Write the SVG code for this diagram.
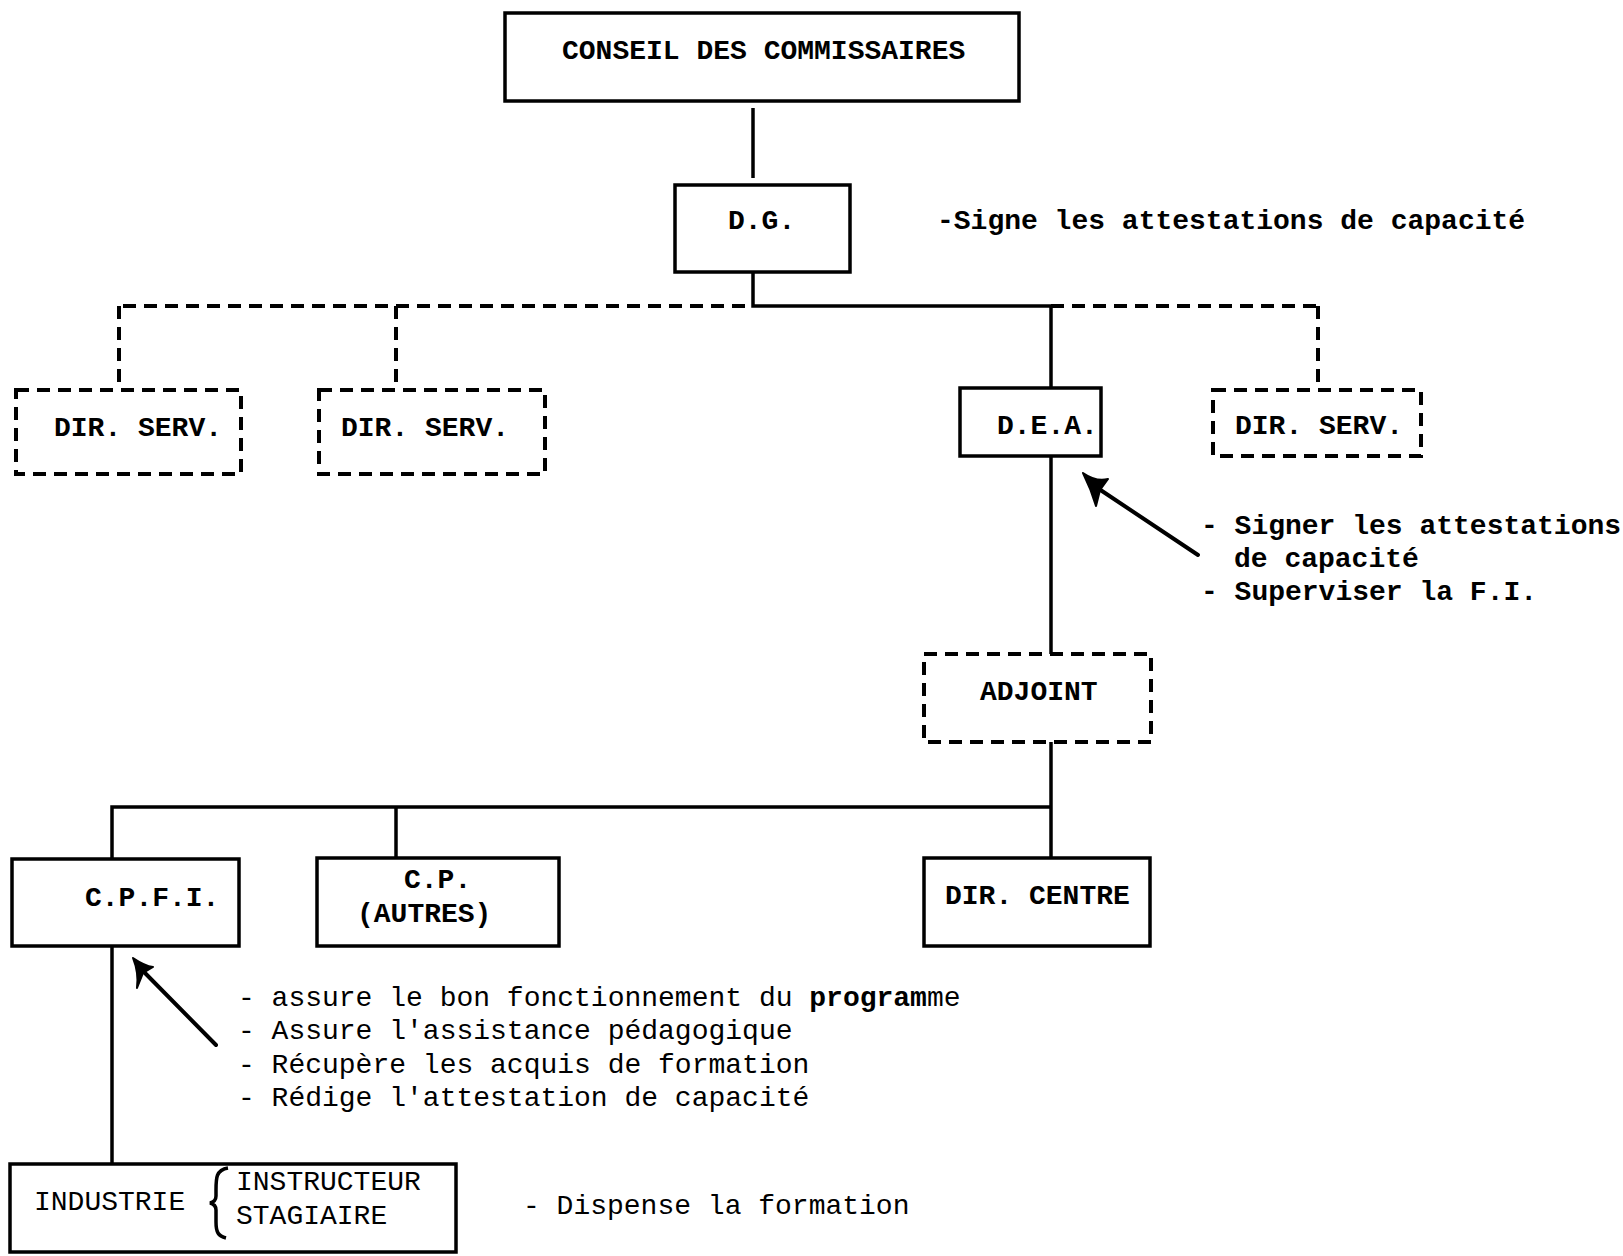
<svg xmlns="http://www.w3.org/2000/svg" width="1623" height="1256" viewBox="0 0 1623 1256">
  <style>
    .box { fill: #fff; stroke: #000; stroke-width: 3.5; }
    .dbox { fill: #fff; stroke: #000; stroke-width: 4; stroke-dasharray: 13 8; }
    .ln { fill: none; stroke: #000; stroke-width: 3.5; }
    .dln { fill: none; stroke: #000; stroke-width: 4; stroke-dasharray: 13 8; }
    .arr { fill: none; stroke: #000; stroke-width: 4; stroke-linecap: round; }
    .head { fill: #000; stroke: #000; stroke-width: 2; stroke-linejoin: round; }
    text { font-family: "Liberation Mono", "DejaVu Sans Mono", monospace; font-size: 28px; fill: #000; }
    .b { font-weight: bold; }
    .n { font-weight: normal; }
  </style>

  <rect width="1623" height="1256" fill="#fff"/>

  <!-- connectors -->
  <g id="connectors">
    <line class="ln" x1="753" y1="108" x2="753" y2="178"/>
    <polyline class="ln" points="753,272 753,306 1051,306"/>
    <line class="dln" x1="745" y1="306" x2="119" y2="306"/>
    <line class="dln" x1="1051" y1="306" x2="1318" y2="306"/>
    <line class="dln" x1="119" y1="306" x2="119" y2="390"/>
    <line class="dln" x1="396" y1="306" x2="396" y2="390"/>
    <line class="dln" x1="1318" y1="306" x2="1318" y2="390"/>
    <line class="ln" x1="1051" y1="306" x2="1051" y2="388"/>
    <line class="ln" x1="1051" y1="456" x2="1051" y2="654"/>
    <line class="ln" x1="1051" y1="742" x2="1051" y2="858"/>
    <polyline class="ln" points="1051,807 112,807 112,859"/>
    <line class="ln" x1="396" y1="807" x2="396" y2="858"/>
    <line class="ln" x1="112" y1="946" x2="112" y2="1164"/>
    <!-- annotation pointers -->
    <line class="arr" x1="1198" y1="555" x2="1099" y2="489"/>
    <path class="head" d="M 1083,473 Q 1096,482 1108,479 L 1100,490 L 1096,506 Q 1091,489 1083,473 Z"/>
    <line class="arr" x1="216" y1="1045" x2="144" y2="972"/>
    <path class="head" d="M 133,958 Q 145,966 153,967 L 143,973 L 137,988 Q 139,973 133,958 Z"/>
  </g>

  <g id="conseil">
    <rect class="box" x="505" y="13" width="514" height="88"/>
    <text class="b" x="562" y="59">CONSEIL DES COMMISSAIRES</text>
  </g>

  <g id="dg">
    <rect class="box" x="675" y="185" width="175" height="87"/>
    <text class="b" x="728" y="229">D.G.</text>
  </g>
  <text class="b" x="937" y="229">-Signe les attestations de capacité</text>

  <g id="dirserv1">
    <rect class="dbox" x="16" y="390" width="225" height="84"/>
    <text class="b" x="54" y="436">DIR. SERV.</text>
  </g>

  <g id="dirserv2">
    <rect class="dbox" x="319" y="390" width="226" height="84"/>
    <text class="b" x="341" y="436">DIR. SERV.</text>
  </g>

  <g id="dea">
    <rect class="box" x="960" y="388" width="141" height="68"/>
    <text class="b" x="997" y="434">D.E.A.</text>
  </g>

  <g id="dirserv4">
    <rect class="dbox" x="1213" y="390" width="208" height="66"/>
    <text class="b" x="1235" y="434">DIR. SERV.</text>
  </g>

  <g id="dea-notes">
    <text class="b" x="1201" y="534">- Signer les attestations</text>
    <text class="b" x="1234" y="567">de capacité</text>
    <text class="b" x="1201" y="600">- Superviser la F.I.</text>
  </g>

  <g id="adjoint">
    <rect class="dbox" x="924" y="654" width="227" height="88"/>
    <text class="b" x="980" y="700">ADJOINT</text>
  </g>

  <g id="cpfi">
    <rect class="box" x="12" y="859" width="227" height="87"/>
    <text class="b" x="85" y="906">C.P.F.I.</text>
  </g>

  <g id="cp">
    <rect class="box" x="317" y="858" width="242" height="88"/>
    <text class="b" x="404" y="888">C.P.</text>
    <text class="b" x="357" y="922">(AUTRES)</text>
  </g>

  <g id="dircentre">
    <rect class="box" x="924" y="858" width="226" height="88"/>
    <text class="b" x="945" y="904">DIR. CENTRE</text>
  </g>

  <g id="cpfi-notes">
    <text class="n" x="238" y="1006">- assure le bon fonctionnement du <tspan class="b">program</tspan>me</text>
    <text class="n" x="238" y="1039">- Assure l'assistance pédagogique</text>
    <text class="n" x="238" y="1073">- Récupère les acquis de formation</text>
    <text class="n" x="238" y="1106">- Rédige l'attestation de capacité</text>
  </g>

  <g id="industrie">
    <rect class="box" x="10" y="1164" width="446" height="88"/>
    <text class="n" x="34" y="1210">INDUSTRIE</text>
    <path class="ln" d="M 228,1168 C 216,1170 216,1178 216,1190 L 216,1196 C 216,1200 214,1202 210,1203 C 214,1204 216,1206 216,1210 L 216,1222 C 216,1232 218,1236 226,1238" stroke-width="2.5"/>
    <text class="n" x="236" y="1190">INSTRUCTEUR</text>
    <text class="n" x="236" y="1224">STAGIAIRE</text>
  </g>

  <text class="n" x="523" y="1214">- Dispense la formation</text>
</svg>
